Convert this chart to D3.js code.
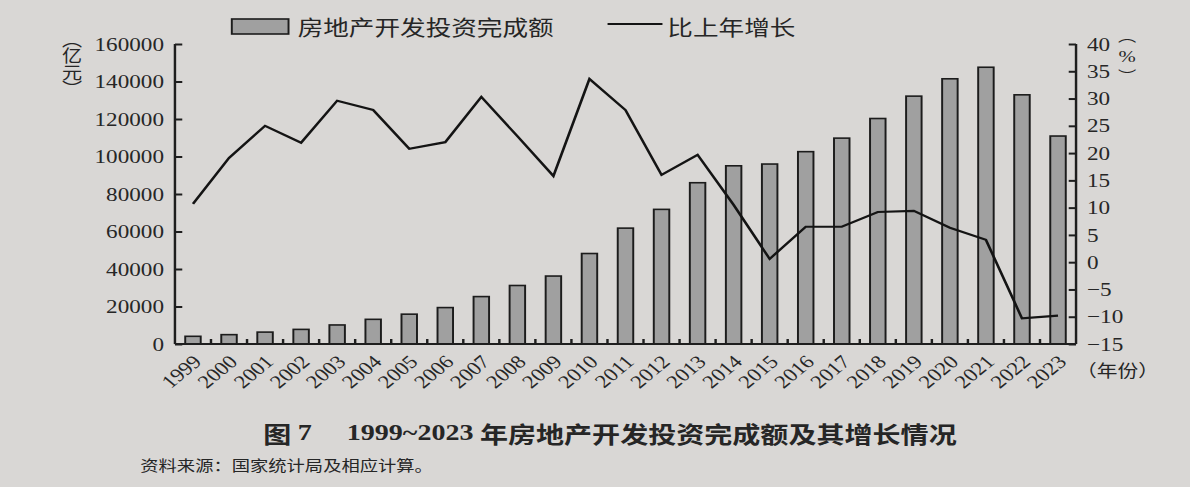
<!DOCTYPE html>
<html>
<head>
<meta charset="utf-8">
<script src="https://cdn.jsdelivr.net/npm/d3@7"></script>
<style>
    body { margin: 0; background: #d9d7d5; }
    svg { display: block; }
    text { fill: #262626; }
    .num { font-family: "Liberation Serif", "Times New Roman", serif; }
    .cjk { font-family: "Noto Sans CJK SC", sans-serif; }
    .axis path, .axis line { stroke: #1e1e1e; stroke-width: 2; }
</style>
</head>
<body>
<svg id="chart" width="1190" height="487"></svg>
<script>
// data
var years = ["1999", "2000", "2001", "2002", "2003", "2004", "2005", "2006", "2007", "2008", "2009", "2010", "2011",
             "2012", "2013", "2014", "2015", "2016", "2017", "2018", "2019", "2020", "2021", "2022", "2023"];
// 房地产开发投资完成额 (亿元)
var investment = [4103, 4984, 6344, 7791, 10154, 13158, 15909, 19423, 25289, 31203, 36242, 48259, 61797,
                  71804, 86013, 95036, 95979, 102581, 109799, 120264, 132194, 141443, 147602, 132895, 110913];
// 比上年增长 (%)
var growth = [10.7, 19.1, 25.0, 21.9, 29.6, 27.9, 20.8, 22.0, 30.3, 23.1, 15.8, 33.6, 27.9,
              16.0, 19.7, 10.5, 0.6, 6.5, 6.5, 9.2, 9.4, 6.3, 4.1, -10.3, -9.8];
var leftTicks = [0, 20000, 40000, 60000, 80000, 100000, 120000, 140000, 160000];
var rightTicks = [-15, -10, -5, 0, 5, 10, 15, 20, 25, 30, 35, 40];

// the photographed page is a bit wider than tall, so draw in a narrower box and stretch it
var stretch = 1.22;
var width = 1190 / stretch, height = 487;

var svg = d3.select("#chart")
    .attr("viewBox", "0 0 " + width + " " + height)
    .attr("preserveAspectRatio", "none");

// plot area
var plotLeft = 143.4, plotRight = 882, plotTop = 44, plotBottom = 344;

var x = d3.scaleBand().domain(years).range([plotLeft, plotRight]).paddingInner(0.57).paddingOuter(0.285);
var yL = d3.scaleLinear().domain([0, 160000]).range([plotBottom, plotTop]);
var yR = d3.scaleLinear().domain([-15, 40]).range([plotBottom, plotTop]);

// bars
svg.append("g").selectAll("rect")
    .data(investment)
    .enter().append("rect")
    .attr("x", function(d, i) { return x(years[i]); })
    .attr("y", function(d) { return yL(d); })
    .attr("width", x.bandwidth())
    .attr("height", function(d) { return plotBottom - yL(d); })
    .attr("fill", "#a0a0a0")
    .attr("stroke", "#1c1c1c")
    .attr("stroke-width", 1.6);

// growth line
var line = d3.line()
    .x(function(d, i) { return x(years[i]) + x.bandwidth() / 2; })
    .y(function(d) { return yR(d); });

svg.append("path")
    .datum(growth)
    .attr("d", line)
    .attr("fill", "none")
    .attr("stroke", "#141414")
    .attr("stroke-width", 2.2)
    .attr("stroke-linejoin", "miter");

// left axis, ticks pointing inward
svg.append("g")
    .attr("class", "axis num")
    .attr("transform", "translate(" + plotLeft + ",0)")
    .call(d3.axisLeft(yL).tickValues(leftTicks).tickFormat(d3.format("d")).tickSize(-6).tickPadding(9).tickSizeOuter(0))
    .call(function(g) { g.select(".domain").attr("d", "M0," + plotTop + "V" + plotBottom); })
    .selectAll("text").style("font-size", "19px").attr("fill", "#262626");

// right axis
svg.append("g")
    .attr("class", "axis num")
    .attr("transform", "translate(" + plotRight + ",0)")
    .call(d3.axisRight(yR).tickValues(rightTicks).tickFormat(d3.format("d")).tickSize(-6).tickPadding(9).tickSizeOuter(0))
    .call(function(g) { g.select(".domain").attr("d", "M0," + plotTop + "V" + plotBottom); })
    .selectAll("text").style("font-size", "19px").attr("fill", "#262626");

// x axis: baseline, small ticks between the bars, rotated year labels
svg.append("line")
    .attr("x1", plotLeft).attr("x2", plotRight)
    .attr("y1", plotBottom).attr("y2", plotBottom)
    .attr("stroke", "#1e1e1e").attr("stroke-width", 2);

svg.append("g").selectAll("line")
    .data(years.slice(1))
    .enter().append("line")
    .attr("x1", function(d) { return x(d) - x.step() * x.paddingInner() / 2; })
    .attr("x2", function(d) { return x(d) - x.step() * x.paddingInner() / 2; })
    .attr("y1", plotBottom).attr("y2", plotBottom - 5)
    .attr("stroke", "#1e1e1e").attr("stroke-width", 2);

svg.append("g").selectAll("text")
    .data(years)
    .enter().append("text")
    .attr("class", "num")
    .attr("text-anchor", "end")
    .attr("transform", function(d) {
        return "translate(" + (x(d) + x.bandwidth() / 2 + 8) + "," + (plotBottom + 19) + ")rotate(-45)";
    })
    .style("font-size", "18.5px")
    .text(function(d) { return d; });

svg.append("text")
    .attr("class", "cjk")
    .attr("x", plotRight).attr("y", plotBottom + 25)
    .attr("dominant-baseline", "central")
    .style("font-size", "17px")
    .text("（年份）");

// unit labels, set vertically
svg.append("text")
    .attr("class", "cjk")
    .attr("x", 59).attr("y", 31)
    .style("writing-mode", "vertical-rl")
    .style("font-size", "16.5px")
    .text("（亿元）");

var unitR = ["︵", "%", "︶"];
var unitRy = [35, 56, 76];
svg.append("g").selectAll("text")
    .data(unitR)
    .enter().append("text")
    .attr("class", function(d) { return d == "%" ? "num" : "cjk"; })
    .attr("text-anchor", "middle")
    .attr("dominant-baseline", "central")
    .attr("x", 924)
    .attr("y", function(d, i) { return unitRy[i]; })
    .style("font-size", function(d) { return d == "%" ? "17px" : "15px"; })
    .text(function(d) { return d; });

// legend
svg.append("rect")
    .attr("x", 190).attr("y", 19)
    .attr("width", 46.5).attr("height", 15)
    .attr("fill", "#a0a0a0").attr("stroke", "#1c1c1c").attr("stroke-width", 1.6);
svg.append("text")
    .attr("class", "cjk")
    .attr("x", 244).attr("y", 26)
    .attr("dominant-baseline", "central")
    .style("font-size", "21px")
    .text("房地产开发投资完成额");

svg.append("line")
    .attr("x1", 498).attr("x2", 543)
    .attr("y1", 24).attr("y2", 24)
    .attr("stroke", "#141414").attr("stroke-width", 2);
svg.append("text")
    .attr("class", "cjk")
    .attr("x", 547).attr("y", 26)
    .attr("dominant-baseline", "central")
    .style("font-size", "21px")
    .text("比上年增长");

// caption and source
var caption = svg.append("text")
    .attr("class", "cjk")
    .attr("x", 500).attr("y", 432)
    .attr("text-anchor", "middle")
    .attr("dominant-baseline", "central")
    .style("font-size", "23px")
    .style("font-weight", "bold");
caption.append("tspan").text("图 ");
caption.append("tspan").attr("class", "num").text("7\u2003 1999~2023");
caption.append("tspan").text(" 年房地产开发投资完成额及其增长情况");

svg.append("text")
    .attr("class", "cjk")
    .attr("x", 115).attr("y", 465)
    .attr("dominant-baseline", "central")
    .style("font-size", "15px")
    .text("资料来源：国家统计局及相应计算。");
</script>
</body>
</html>
